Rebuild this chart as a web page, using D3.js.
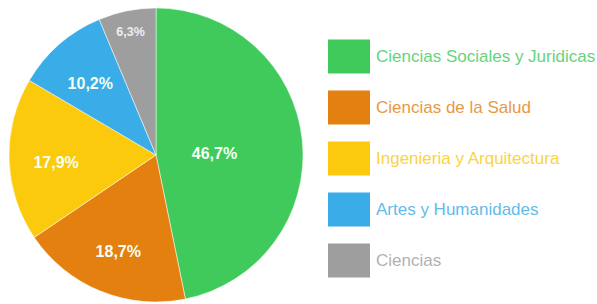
<!DOCTYPE html>
<html><head><meta charset="utf-8">
<script src="https://cdn.jsdelivr.net/npm/d3@7"></script>
<style>html,body{margin:0;padding:0;background:#fff;}svg{display:block;}</style>
</head><body>
<svg id="chart" width="597" height="304"></svg>
<script>
const categories = ["Ciencias Sociales y Juridicas","Ciencias de la Salud","Ingenieria y Arquitectura","Artes y Humanidades","Ciencias"];
const values = [46.7, 18.7, 17.9, 10.2, 6.3];
const labels = ["46,7%","18,7%","17,9%","10,2%","6,3%"];
const colors = ["#3fca5b","#e3800f","#fbca0c","#3aace7","#9e9e9e"];

const svg = d3.select("#chart");
const cx = 156, cy = 155, r = 147;
const total = d3.sum(values);
const pie = d3.pie().sort(null).value(d => d)(values);
const arc = d3.arc().innerRadius(0).outerRadius(r);
const g = svg.append("g").attr("transform", `translate(${cx},${cy})`);
g.selectAll("path").data(pie).join("path")
  .attr("d", arc).attr("fill", (d,i) => colors[i])
  .attr("stroke", "#fff").attr("stroke-width", 0.5);

function labelR(d){
  const f = d.value / total;
  return f > 0.4 ? 0.4 * r : (f < 0.08 ? 0.88 * r : 0.68 * r);
}
g.selectAll("text").data(pie).join("text")
  .attr("x", d => { const a=(d.startAngle+d.endAngle)/2; return Math.sin(a)*labelR(d); })
  .attr("y", d => { const a=(d.startAngle+d.endAngle)/2; return -Math.cos(a)*labelR(d) + 4; })
  .attr("text-anchor","middle").attr("dominant-baseline","central")
  .attr("font-family","Liberation Sans, Arial, sans-serif")
  .attr("font-weight","bold")
  .attr("font-size", d => d.value/total < 0.08 ? 12.5 : 16)
  .attr("fill", d => d.value/total < 0.08 ? "#eeeeee" : "#f6fff6")
  .text((d,i) => labels[i]);

const y = d3.scaleBand().domain(categories).range([31, 286]);
const leg = svg.append("g");
const rows = leg.selectAll("g").data(categories).join("g")
  .attr("transform", d => `translate(0,${y(d) + y.bandwidth()/2})`);
rows.append("rect").attr("x", 328).attr("y", -17).attr("width", 42).attr("height", 34)
  .attr("fill", (d,i) => colors[i]);
rows.append("text").attr("x", 376).attr("y", 0).attr("dominant-baseline","central")
  .attr("font-family","Liberation Sans, Arial, sans-serif").attr("font-size", 17)
  .attr("fill", (d,i) => colors[i]).attr("opacity", 0.8)
  .text(d => d);
</script>
</body></html>
